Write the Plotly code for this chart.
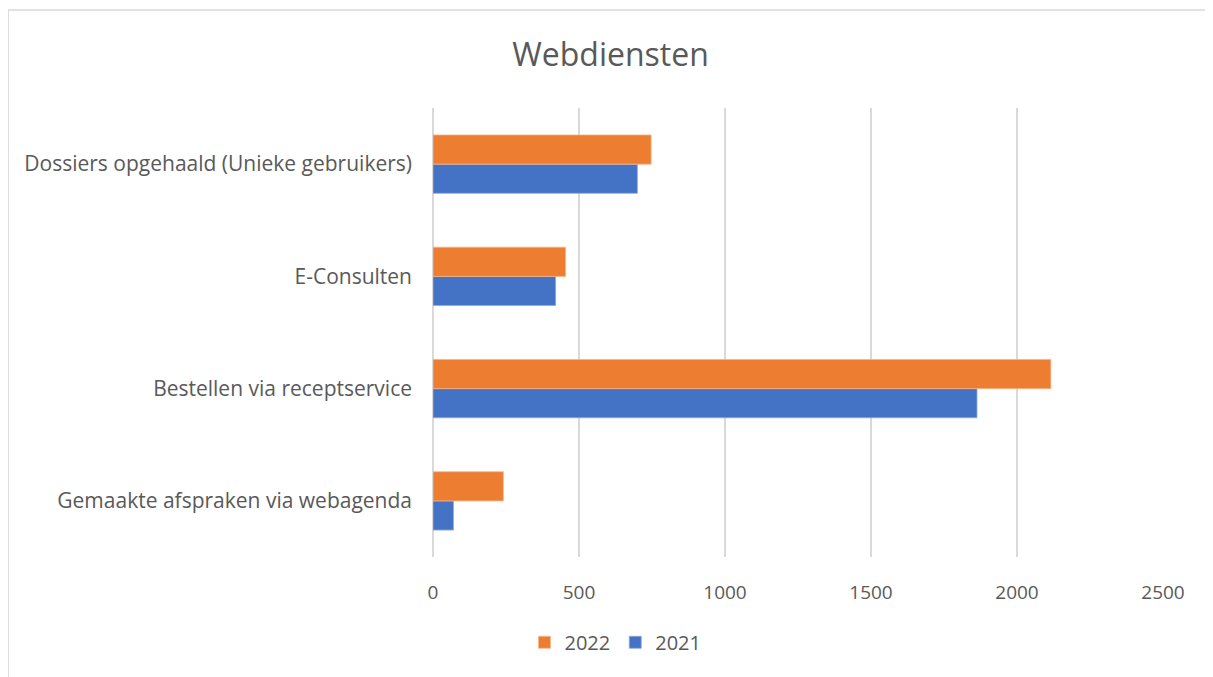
import plotly.graph_objects as go

categories = [
    "Gemaakte afspraken via webagenda",
    "Bestellen via receptservice",
    "E-Consulten",
    "Dossiers opgehaald (Unieke gebruikers)",
]
values_2021 = [70, 1863, 420, 700]
values_2022 = [241, 2116, 454, 747]
x_ticks = [0, 500, 1000, 1500, 2000, 2500]

FONT = "Open Sans"
TXT = "#595959"

fig = go.Figure()
fig.add_trace(go.Bar(y=categories, x=values_2021, name="2021", orientation="h",
                     marker=dict(color="#4472C4", line=dict(color="#8FA9DC", width=0.8))))
fig.add_trace(go.Bar(y=categories, x=values_2022, name="2022", orientation="h",
                     marker=dict(color="#ED7D31", line=dict(color="#F5B58A", width=0.8))))

fig.update_layout(
    width=1205, height=669,
    margin=dict(l=425, r=50, t=100, b=120),
    paper_bgcolor="white", plot_bgcolor="white",
    barmode="group", bargap=0.48, bargroupgap=0,
    title=dict(text="Webdiensten", x=0.5, xref="container", xanchor="center",
               y=0.93, yref="container", yanchor="middle",
               font=dict(family=FONT, size=32, color=TXT)),
    font=dict(family=FONT, color=TXT),
    xaxis=dict(range=[0, 2500], tickvals=x_ticks, showgrid=True, gridcolor="#D9D9D9",
               gridwidth=2, zeroline=True, zerolinecolor="#D9D9D9", zerolinewidth=2,
               showline=False, ticks="", tickfont=dict(family=FONT, size=19, color=TXT),
               ticklabelstandoff=22),
    yaxis=dict(showgrid=False, ticks="", showline=False,
               tickfont=dict(family=FONT, size=21, color=TXT), ticklabelstandoff=20),
    legend=dict(orientation="h", x=0.25, xanchor="center", y=-0.19, yanchor="middle",
                traceorder="reversed", font=dict(family=FONT, size=20, color=TXT)),
    showlegend=True,
)
fig.add_shape(type="rect", xref="paper", yref="paper", x0=-0.582, x1=1.2,
              y0=-0.4, y1=1.218, line=dict(color="#D9D9D9", width=1.5),
              fillcolor="rgba(0,0,0,0)", layer="below")

fig.write_html("out.html")
